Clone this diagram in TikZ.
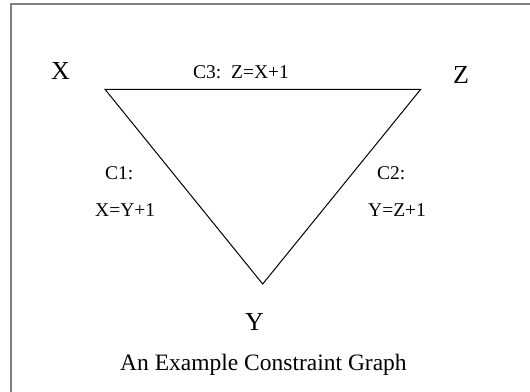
\documentclass[tikz,border=0pt]{standalone}
\usepackage{fontspec}
\setmainfont{Liberation Serif}
\begin{document}
\begin{tikzpicture}[x=1pt,y=-1pt,
  vlabel/.style={anchor=base west,inner sep=0pt,font=\fontsize{26}{30}\selectfont},
  clabel/.style={anchor=base west,inner sep=0pt,font=\fontsize{19.5}{23}\selectfont},
  caplabel/.style={anchor=base west,inner sep=0pt,font=\fontsize{23.5}{28}\selectfont},
  frame/.style={draw=black!50,line width=2pt},
  edge/.style={draw=black,line width=1pt,line join=miter}]
\useasboundingbox (0,0) rectangle (530,391);
\draw[frame] (531,4.3) -- (10.7,4.3) -- (10.7,392);
\coordinate (vx) at (105,89.3);
\coordinate (vz) at (420.7,89.3);
\coordinate (vy) at (262.7,284);
\draw[edge] (vx) -- (vz) -- (vy) -- cycle;
\node[vlabel] (lx) at (51,79) {X};
\node[vlabel] (lz) at (453,83) {Z};
\node[vlabel] (ly) at (245,330) {Y};
\node[clabel] (c3) at (193,78) {C3:\ \ Z=X+1};
\node[clabel] (c1) at (105,179) {C1:};
\node[clabel] (e1) at (95,216) {X=Y+1};
\node[clabel] (c2) at (377,179) {C2:};
\node[clabel] (e2) at (368,216) {Y=Z+1};
\node[caplabel] (cap) at (120,370) {An Example Constraint Graph};
\end{tikzpicture}
\end{document}
